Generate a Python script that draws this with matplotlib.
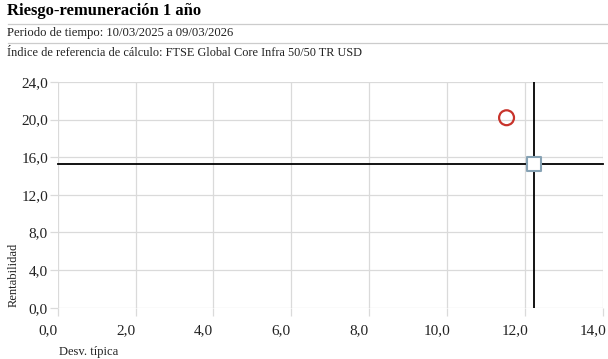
import matplotlib
matplotlib.use("Agg")
import matplotlib.pyplot as plt
from matplotlib.lines import Line2D
from matplotlib.transforms import ScaledTranslation

plt.rcParams['font.family'] = ['Liberation Serif', 'DejaVu Serif']

# risk (std dev) / return, 1 year
fund_risk = [11.53]
fund_return = [20.2]
bench_risk = [12.23]
bench_return = [15.25]

x_ticks = [0, 2, 4, 6, 8, 10, 12, 14]
y_ticks = [0, 4, 8, 12, 16, 20, 24]

title = "Riesgo-remuneración 1 año"
period = "Periodo de tiempo: 10/03/2025 a 09/03/2026"
bench_txt = "Índice de referencia de cálculo: FTSE Global Core Infra 50/50 TR USD"

fig = plt.figure(figsize=(6.08, 3.59), dpi=100)
ax = fig.add_axes([0.0949, 0.1429, 0.8964, 0.6287])

ax.set_xlim(0, 14)
ax.set_ylim(0, 24)
ax.set_xticks(x_ticks)
ax.set_yticks(y_ticks)
ax.set_xticklabels([f"{v:.1f}".replace('.', ',') for v in x_ticks])
ax.set_yticklabels([f"{v:.1f}".replace('.', ',') for v in y_ticks])
for s in ax.spines.values():
    s.set_visible(False)
ax.grid(True, color='#dadada', linewidth=0.9)
ax.set_axisbelow(True)
ax.tick_params(axis='both', colors='#dadada', labelcolor='#222222', labelsize=11,
               width=0.9)
ax.tick_params(axis='x', length=6, pad=6)
ax.tick_params(axis='y', length=6, pad=1)

# x labels sit a bit to the left of their gridlines
shift = ScaledTranslation(-10 / 100, 0, fig.dpi_scale_trans)
for lab in ax.get_xticklabels():
    lab.set_transform(lab.get_transform() + shift)

# crosshair through the benchmark
ax.axhline(bench_return[0], color='black', linewidth=1.3, zorder=2, clip_on=False)
ax.axvline(bench_risk[0], color='black', linewidth=1.3, zorder=2)

ax.scatter(fund_risk, fund_return, s=115, facecolor='none', edgecolor='#c8332b',
           linewidth=1.6, zorder=3)
ax.scatter(bench_risk, bench_return, marker='s', s=105, facecolor='white',
           edgecolor='#86a2b4', linewidth=1.5, zorder=3)

fig.text(0.097, 0.012, "Desv. típica", fontsize=9, color='#222222')
fig.text(0.023, 0.235, "Rentabilidad", fontsize=9, color='#222222', rotation=90,
         ha='center', va='center')

fig.text(0.012, 0.970, title, fontsize=12, fontweight='bold', va='center')
fig.text(0.012, 0.908, period, fontsize=9.1, va='center', color='#222222')
fig.text(0.012, 0.853, bench_txt, fontsize=8.8, va='center', color='#222222')
fig.add_artist(Line2D([0.013, 1.0], [0.933, 0.933], color='#cccccc', linewidth=0.9))
fig.add_artist(Line2D([0.013, 1.0], [0.879, 0.879], color='#cccccc', linewidth=0.9))

fig.savefig("out.png", dpi=100)
